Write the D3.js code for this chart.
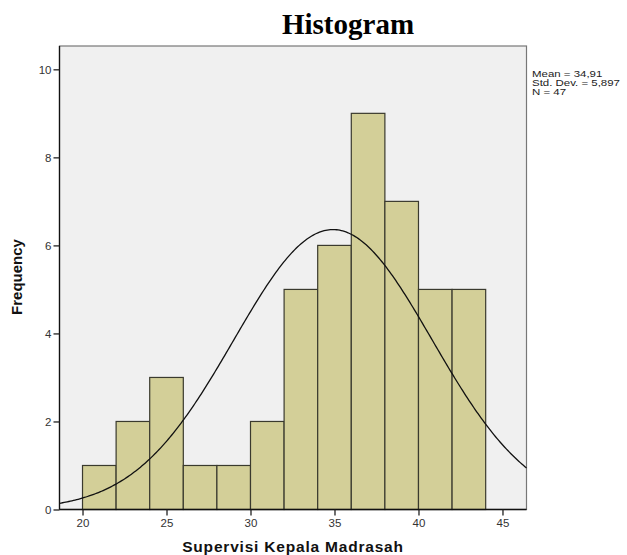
<!DOCTYPE html>
<html><head><meta charset="utf-8">
<script src="https://cdn.jsdelivr.net/npm/d3@7"></script>
<style>body{margin:0;background:#fff}svg{display:block}</style>
</head><body>
<script>
const binStarts = [20,22,24,26,28,30,32,34,36,38,40,42];
const binWidth = 2;
const counts = [1,2,3,1,1,2,5,6,9,7,5,5];
const xTicks = [20,25,30,35,40,45];
const yTicks = [0,2,4,6,8,10];
const meanVal = 34.91, sdVal = 5.897, nVal = 47;
const statsLines = ["Mean = 34,91","Std. Dev. = 5,897","N = 47"];

const W=627,H=555;
const L=59.5,R=526.5,T=46,B=509.5;
const svg=d3.select("body").append("svg").attr("width",W).attr("height",H);
const x=d3.scaleLinear().domain([18.63,46.43]).range([L,R]);
const y=d3.scaleLinear().domain([0,10.53]).range([B,T]);

svg.append("rect").attr("x",L).attr("y",T).attr("width",R-L).attr("height",B-T)
  .attr("fill","#f0f0f0").attr("stroke","#777").attr("stroke-width",1.2);

svg.append("g").selectAll("rect").data(binStarts).join("rect")
  .attr("x",d=>x(d)).attr("width",d=>x(d+binWidth)-x(d))
  .attr("y",(d,i)=>y(counts[i])).attr("height",(d,i)=>B-y(counts[i]))
  .attr("fill","#d3cf98").attr("stroke","#3a3a2e").attr("stroke-width",1.2);

const pdf=v=>nVal*binWidth*Math.exp(-0.5*((v-meanVal)/sdVal)**2)/(sdVal*Math.sqrt(2*Math.PI));
const xs=d3.range(0,301).map(i=>18.63+(46.43-18.63)*i/300);
svg.append("path").datum(xs).attr("fill","none").attr("stroke","#111").attr("stroke-width",1.3)
  .attr("d",d3.line().x(d=>x(d)).y(d=>y(pdf(d))));

const ya=svg.append("g").attr("transform",`translate(${L},0)`)
  .call(d3.axisLeft(y).tickValues(yTicks).tickSize(6).tickPadding(2).tickSizeOuter(0));
const xa=svg.append("g").attr("transform",`translate(0,${B})`)
  .call(d3.axisBottom(x).tickValues(xTicks).tickSize(6).tickPadding(3).tickSizeOuter(0));
[ya,xa].forEach(a=>{
  a.select(".domain").attr("stroke","#111").attr("stroke-width",1.3);
  a.selectAll(".tick line").attr("stroke","#222").attr("stroke-width",1.3);
  a.selectAll("text").attr("font-family","Arial, 'Liberation Sans', sans-serif").attr("font-size",11.5).attr("fill","#333");
});
xa.select(".domain").attr("d",`M${L},0H${R}`);
ya.select(".domain").attr("d",`M0,${T}V${B}`);

svg.append("text").attr("x",348).attr("y",34).attr("text-anchor","middle")
  .attr("font-family","'Liberation Serif','Times New Roman',serif").attr("font-weight","bold")
  .attr("font-size",29).attr("fill","#000").text("Histogram");

svg.append("text").attr("x",293).attr("y",552).attr("text-anchor","middle")
  .attr("font-family","Arial, 'Liberation Sans', sans-serif").attr("font-weight","bold")
  .attr("font-size",15.5).attr("letter-spacing",0.8).attr("fill","#111").text("Supervisi Kepala Madrasah");

svg.append("text").attr("transform","translate(22,277) rotate(-90)").attr("text-anchor","middle")
  .attr("font-family","Arial, 'Liberation Sans', sans-serif").attr("font-weight","bold")
  .attr("font-size",15).attr("fill","#111").text("Frequency");

const stats=svg.append("text").attr("transform","translate(532,76.5) scale(1.38,1)")
  .attr("font-family","Arial, 'Liberation Sans', sans-serif").attr("font-size",8.3)
  .attr("fill","#222");
stats.selectAll("tspan").data(statsLines).join("tspan")
  .attr("x",0).attr("y",(d,i)=>i*9.4).text(d=>d);
</script>
</body></html>
